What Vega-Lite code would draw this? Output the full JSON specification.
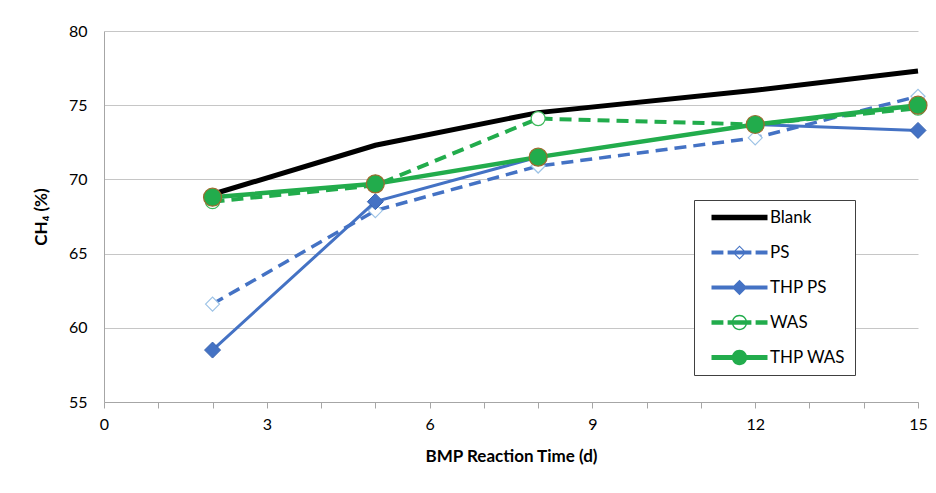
{
  "$schema": "https://vega.github.io/schema/vega-lite/v6.json",
  "width": 814,
  "height": 371,
  "autosize": {"type": "none"},
  "padding": {"left": 104, "top": 31, "right": 18, "bottom": 91},
  "background": "white",
  "config": {
    "view": {"stroke": null},
    "font": "Lato",
    "axis": {"labelColor": "#000000", "titleColor": "#000000", "labelFont": "Lato", "titleFont": "Lato"}
  },
  "data": {
    "values": [
      {"series": "Blank", "day": 2, "ch4": 69.0},
      {"series": "Blank", "day": 5, "ch4": 72.3},
      {"series": "Blank", "day": 8, "ch4": 74.5},
      {"series": "Blank", "day": 12, "ch4": 76.0},
      {"series": "Blank", "day": 15, "ch4": 77.3},
      {"series": "PS", "day": 2, "ch4": 61.6},
      {"series": "PS", "day": 5, "ch4": 67.9},
      {"series": "PS", "day": 8, "ch4": 70.9},
      {"series": "PS", "day": 12, "ch4": 72.8},
      {"series": "PS", "day": 15, "ch4": 75.6},
      {"series": "THP PS", "day": 2, "ch4": 58.5},
      {"series": "THP PS", "day": 5, "ch4": 68.5},
      {"series": "THP PS", "day": 8, "ch4": 71.5},
      {"series": "THP PS", "day": 12, "ch4": 73.7},
      {"series": "THP PS", "day": 15, "ch4": 73.3},
      {"series": "WAS", "day": 2, "ch4": 68.5},
      {"series": "WAS", "day": 5, "ch4": 69.6},
      {"series": "WAS", "day": 8, "ch4": 74.1},
      {"series": "WAS", "day": 12, "ch4": 73.7},
      {"series": "WAS", "day": 15, "ch4": 74.8},
      {"series": "THP WAS", "day": 2, "ch4": 68.8},
      {"series": "THP WAS", "day": 5, "ch4": 69.7},
      {"series": "THP WAS", "day": 8, "ch4": 71.5},
      {"series": "THP WAS", "day": 12, "ch4": 73.7},
      {"series": "THP WAS", "day": 15, "ch4": 75.0}
    ]
  },
  "encoding": {
    "x": {
      "field": "day",
      "type": "quantitative",
      "scale": {"domain": [0, 15], "nice": false},
      "axis": {
        "title": "BMP Reaction Time (d)",
        "values": [0, 1, 2, 3, 4, 5, 6, 7, 8, 9, 10, 11, 12, 13, 14, 15],
        "labelExpr": "datum.value % 3 === 0 ? datum.label : ''",
        "labelOverlap": false,
        "labelFlush": false,
        "grid": false,
        "tickSize": 6,
        "tickColor": "#a6a6a6",
        "domainColor": "#a6a6a6",
        "labelFontSize": 16,
        "labelPadding": 8,
        "titleFontSize": 17,
        "titleFontWeight": "bold",
        "titlePadding": 16
      }
    },
    "y": {
      "field": "ch4",
      "type": "quantitative",
      "scale": {"domain": [55, 80], "nice": false},
      "axis": {
        "title": "CH₄ (%)",
        "values": [55, 60, 65, 70, 75, 80],
        "grid": true,
        "gridColor": "#c6c6c6",
        "ticks": false,
        "tickSize": 0,
        "domainColor": "#a6a6a6",
        "labelPadding": 17,
        "labelFontSize": 16,
        "labelFlush": false,
        "titleFontSize": 17,
        "titleFontWeight": "bold",
        "titlePadding": 18
      }
    }
  },
  "layer": [
    {
      "transform": [{"filter": "datum.series === 'Blank'"}],
      "mark": {"type": "line", "color": "#000000", "strokeWidth": 5}
    },
    {
      "transform": [{"filter": "datum.series === 'PS'"}],
      "mark": {"type": "line", "color": "#4472C4", "strokeWidth": 3.5, "strokeDash": [12, 7]}
    },
    {
      "transform": [{"filter": "datum.series === 'PS'"}],
      "mark": {"type": "point", "shape": "diamond", "filled": true, "fill": "#ffffff", "stroke": "#9DC3E6", "strokeWidth": 1.2, "size": 196, "opacity": 1}
    },
    {
      "transform": [{"filter": "datum.series === 'THP PS'"}],
      "mark": {"type": "line", "color": "#4472C4", "strokeWidth": 3}
    },
    {
      "transform": [{"filter": "datum.series === 'THP PS'"}],
      "mark": {"type": "point", "shape": "diamond", "filled": true, "fill": "#4472C4", "stroke": "#3A64B0", "strokeWidth": 1, "size": 256, "opacity": 1}
    },
    {
      "transform": [{"filter": "datum.series === 'WAS'"}],
      "mark": {"type": "line", "color": "#22AC4C", "strokeWidth": 4, "strokeDash": [12, 7]}
    },
    {
      "transform": [{"filter": "datum.series === 'WAS'"}],
      "mark": {"type": "point", "shape": "circle", "filled": true, "fill": "#ffffff", "stroke": "#3CB95A", "strokeWidth": 1.2, "size": 196, "opacity": 1}
    },
    {
      "transform": [{"filter": "datum.series === 'THP WAS'"}],
      "mark": {"type": "line", "color": "#22AC4C", "strokeWidth": 4.5}
    },
    {
      "transform": [{"filter": "datum.series === 'THP WAS'"}],
      "mark": {"type": "point", "shape": "circle", "filled": true, "fill": "#22AC4C", "stroke": "#9C6B2E", "strokeWidth": 1.2, "size": 324, "opacity": 1}
    },
    {
      "mark": {"type": "point", "filled": true, "opacity": 0},
      "encoding": {
        "shape": {
          "field": "series",
          "type": "nominal",
          "scale": {
            "domain": ["Blank", "PS", "THP PS", "WAS", "THP WAS"],
            "range": [
              "M0,-0.39H8V0.39H0Z",
              "M0,-0.29H1.7V0.29H0Z M2.3,-0.29H5.7V0.29H2.3Z M6.3,-0.29H8V0.29H6.3Z M4,-1L5,0L4,1L3,0Z M4,-0.78L3.22,0L4,0.78L4.78,0Z",
              "M0,-0.29H8V0.29H0Z M4,-1.1L5.1,0L4,1.1L2.9,0Z",
              "M0,-0.32H1.7V0.32H0Z M2.3,-0.32H5.7V0.32H2.3Z M6.3,-0.32H8V0.32H6.3Z M2.9,0A1.1,1.1 0 1,1 5.1,0A1.1,1.1 0 1,1 2.9,0Z M3.1,0A0.9,0.9 0 1,0 4.9,0A0.9,0.9 0 1,0 3.1,0Z",
              "M0,-0.34H8V0.34H0Z M2.9,0A1.1,1.1 0 1,1 5.1,0A1.1,1.1 0 1,1 2.9,0Z"
            ]
          },
          "legend": {
            "title": null,
            "orient": "none",
            "legendX": 590,
            "legendY": 169,
            "symbolSize": 196,
            "symbolStrokeWidth": 0,
            "symbolOpacity": 1,
            "labelFontSize": 17,
            "labelFont": "Lato",
            "labelColor": "#000000",
            "labelOffset": 50,
            "labelLimit": 200,
            "rowPadding": 17,
            "padding": 9,
            "strokeColor": "#404040",
            "fillColor": "#ffffff"
          }
        },
        "fill": {
          "field": "series",
          "type": "nominal",
          "scale": {
            "domain": ["Blank", "PS", "THP PS", "WAS", "THP WAS"],
            "range": ["#000000", "#4472C4", "#4472C4", "#22AC4C", "#22AC4C"]
          },
          "legend": {
            "title": null,
            "orient": "none",
            "legendX": 590,
            "legendY": 169,
            "symbolSize": 196,
            "symbolStrokeWidth": 0,
            "symbolOpacity": 1,
            "labelFontSize": 17,
            "labelFont": "Lato",
            "labelColor": "#000000",
            "labelOffset": 50,
            "labelLimit": 200,
            "rowPadding": 17,
            "padding": 9,
            "strokeColor": "#404040",
            "fillColor": "#ffffff"
          }
        }
      }
    }
  ]
}
